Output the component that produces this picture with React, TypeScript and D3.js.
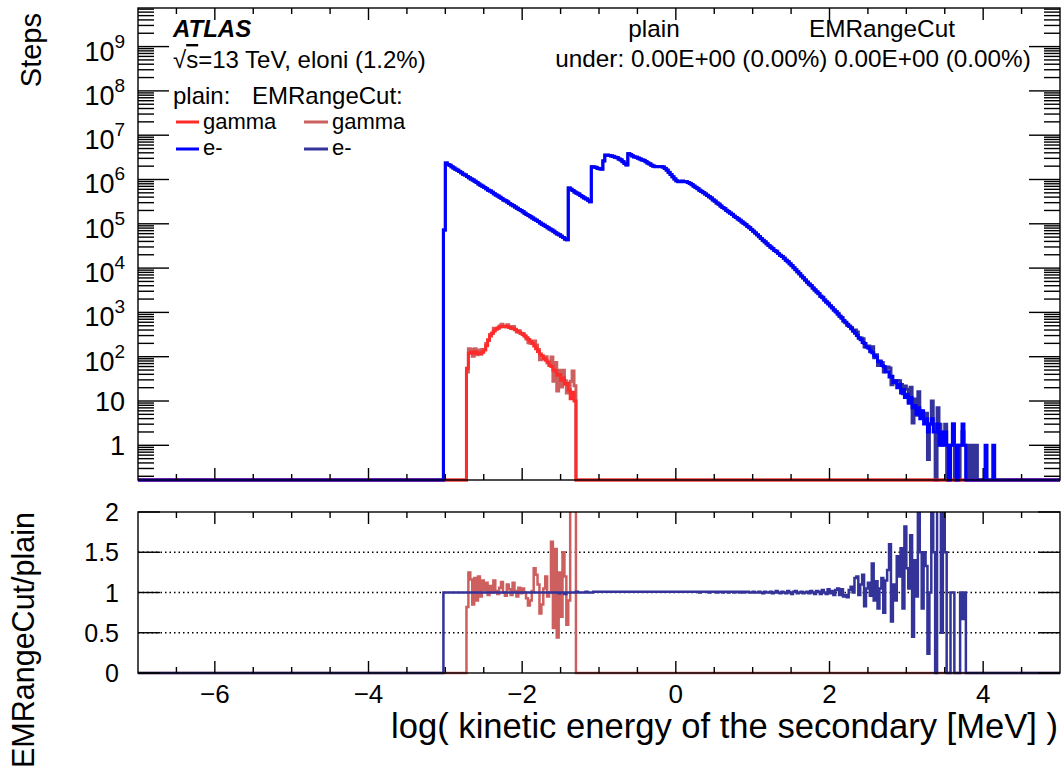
import React from 'react';
import * as d3 from 'd3';

// ---------------- data ----------------
const BIN_W = 0.025;
const X_MIN = -7;
const X_MAX = 5;

// e- (plain) : log10(steps) per 0.025 bin, starting at -3.2 (null = empty bin)
const E_START = -3.2;
const ePlainLog10: (number | null)[] = [
  null, null, null, null, null, null, null, 4.86,
  6.37, 6.34, 6.32, 6.29, 6.26, 6.23, 6.21, 6.18,
  6.15, 6.12, 6.10, 6.07, 6.04, 6.01, 5.99, 5.96,
  5.93, 5.90, 5.87, 5.85, 5.82, 5.79, 5.76, 5.74,
  5.71, 5.68, 5.65, 5.63, 5.60, 5.57, 5.54, 5.52,
  5.49, 5.46, 5.43, 5.41, 5.38, 5.35, 5.32, 5.30,
  5.27, 5.24, 5.21, 5.19, 5.16, 5.13, 5.10, 5.08,
  5.05, 5.02, 4.99, 4.97, 4.94, 4.91, 4.88, 4.86,
  4.83, 4.80, 4.77, 4.75, 4.72, 4.69, 4.66, 4.64,
  5.81, 5.78, 5.75, 5.72, 5.69, 5.67, 5.64, 5.61,
  5.58, 5.56, 5.53, 5.50, 6.29, 6.28, 6.27, 6.25,
  6.24, 6.23, 6.42, 6.55, 6.55, 6.54, 6.53, 6.52,
  6.50, 6.49, 6.46, 6.44, 6.40, 6.36, 6.33, 6.58,
  6.56, 6.53, 6.51, 6.50, 6.48, 6.46, 6.44, 6.43,
  6.40, 6.37, 6.35, 6.32, 6.30, 6.29, 6.29, 6.29,
  6.29, 6.28, 6.25, 6.21, 6.16, 6.11, 6.06, 6.01,
  5.97, 5.95, 5.95, 5.96, 5.95, 5.95, 5.93, 5.91,
  5.88, 5.85, 5.82, 5.79, 5.76, 5.73, 5.70, 5.67,
  5.64, 5.61, 5.58, 5.54, 5.51, 5.47, 5.44, 5.40,
  5.37, 5.34, 5.30, 5.27, 5.24, 5.21, 5.17, 5.14,
  5.11, 5.08, 5.04, 5.01, 4.98, 4.94, 4.91, 4.87,
  4.83, 4.79, 4.75, 4.71, 4.67, 4.63, 4.59, 4.55,
  4.51, 4.47, 4.44, 4.40, 4.37, 4.33, 4.29, 4.26,
  4.22, 4.18, 4.14, 4.10, 4.06, 4.01, 3.96, 3.92,
  3.87, 3.82, 3.78, 3.73, 3.68, 3.64, 3.60, 3.55,
  3.51, 3.46, 3.42, 3.37, 3.33, 3.28, 3.24, 3.19,
  3.15, 3.10, 3.06, 3.01, 2.96, 2.92, 2.87, 2.82,
  2.78, 2.73, 2.68, 2.63, 2.58, 2.53, 2.48, 2.43,
  2.38, 2.32, 2.30, 2.22, 2.19, 2.13, 2.09, 2.02,
  1.99, 1.90, 1.88, 1.80, 1.78, 1.66, 1.66, 1.54,
  1.56, 1.42, 1.45, 1.30, 1.38, 1.18, 1.26, 1.08,
  1.15, 0.95, 1.08, 0.85, 0.90, 0.70, 0.85, 0.60,
  0.78, 0.48, 0.60, 0.30, 0.48, 0.60, 0.30, 0.30,
  0.48, 0.00, 0.30, 0.00, 0.30, 0.00, null, 0.00,
  0.48, 0.00, null, 0.00, 0.00, 0.48, 0.00, null,
  null, null, null, null, null, null, null, null,
  null, 0.00, null, null, null, 0.00, null, null,
];

// e- ratio EMRangeCut / plain, same binning
const eRatio: number[] = [
  0, 0, 0, 0, 0, 0, 0, 1.00,
  1, 1, 1, 1, 1, 1, 1, 1,
  1, 1, 1, 1, 1, 1, 1, 1,
  1, 1, 1, 1, 1, 1, 1, 1,
  1, 1, 1, 1, 1, 1, 1, 1,
  1, 1, 1, 1, 1, 1, 1, 1,
  1, 1, 1, 1, 1, 1, 1, 1,
  1, 1, 1, 1, 1, 1, 1, 1,
  1, 1, 1, 0.99, 1, 1, 0.98, 1,
  1, 1, 1, 1, 1.01, 1, 1, 1,
  1, 1.01, 1, 1, 1, 1.01, 1.01, 1.01,
  1.01, 1.01, 1.01, 1.01, 1.01, 1.01, 1.01, 1.01,
  1.01, 1.01, 1.01, 1.01, 1.01, 1.01, 1.01, 1.01,
  1.01, 1.01, 1.01, 1.01, 1.01, 1.01, 1.01, 1.01,
  1.01, 1.01, 1.01, 1.01, 1.01, 1.01, 1.01, 1.01,
  1.01, 1.01, 1.01, 1.01, 1.01, 1.01, 1.01, 1.01,
  1.01, 1.01, 1.01, 1.01, 1.01, 1.01, 1.01, 1.01,
  1.01, 1.01, 1.01, 1.01, 1.00, 1.01, 1.01, 1.01,
  1.01, 1.00, 1.01, 1.01, 1.01, 1.00, 1.01, 1.01,
  1.00, 1.01, 1.01, 1.00, 1.01, 1.01, 1.00, 1.01,
  1.01, 1.00, 1.01, 1.00, 1.01, 1.01, 1.00, 1.00,
  1.01, 1.00, 1.00, 1.01, 1.00, 0.99, 1.01, 1.00,
  1.00, 1.01, 0.99, 1.00, 1.02, 1.00, 0.99, 1.01,
  1.00, 0.99, 1.02, 1.00, 0.98, 1.01, 1.02, 0.99,
  1.00, 1.01, 0.99, 1.00, 1.01, 0.99, 1.02, 1.00,
  0.98, 1.02, 1.01, 0.98, 1.03, 1.00, 0.98, 1.04,
  0.99, 1.02, 0.97, 1.03, 1.05, 0.97, 1.04, 0.95,
  0.97, 0.94, 1.03, 1.07, 1.00, 1.18, 1.20, 0.97,
  1.10, 1.22, 0.83, 1.05, 1.12, 0.96, 1.36, 0.90,
  1.14, 0.80, 1.05, 1.18, 0.75, 1.15, 1.28, 1.60,
  0.64, 1.10, 0.90, 1.45, 1.20, 1.55, 0.80, 1.82,
  1.30, 1.05, 1.71, 0.45, 1.40, 0.95, 2.30, 1.50,
  0.80, 1.50, 1.33, 0.24, 1.00, 2.50, 1.50, 0.00,
  2.33, 3.00, 0.50, 2.00, 1.50, 0.00, 0.00, 1.00,
  1.00, 0.00, 0.00, 0.00, 1.00, 0.67, 1.00, 0.00,
];

// EMRangeCut e- bins that are filled where plain is empty
const eCutOnlyEdges = [3.55, 3.65, 3.8, 3.85, 3.9];
const eCutOnlyCounts = [1, 1, 1, 1, 1];

// gamma (plain) : log10(steps) per 0.025 bin, starting at -2.8
const G_START = -2.8;
const gPlainLog10: (number | null)[] = [
  null, null, null, 1.74, 2.08, 2.10, 2.08, 2.11,
  2.09, 2.07, 2.08, 2.10, 2.15, 2.25, 2.38, 2.47,
  2.53, 2.58, 2.62, 2.65, 2.67, 2.68, 2.69, 2.69,
  2.68, 2.66, 2.65, 2.63, 2.61, 2.58, 2.56, 2.53,
  2.50, 2.47, 2.43, 2.39, 2.35, 2.30, 2.24, 2.18,
  2.12, 2.06, 2.02, 1.96, 1.92, 1.88, 1.80, 1.78,
  1.70, 1.68, 1.58, 1.60, 1.47, 1.52, 1.38, 1.40,
  1.25, 1.05, 1.20, 1.00,
];

const gRatio: number[] = [
  0, 0, 0, 0.82, 1.25, 1.16, 0.85, 1.18,
  0.90, 1.20, 0.95, 1.15, 1.03, 1.12, 0.97, 1.08,
  1.00, 1.15, 1.02, 0.98, 1.06, 1.13, 1.00, 0.96,
  1.10, 1.04, 0.97, 1.12, 1.02, 0.95, 1.06, 0.99,
  1.05, 1.00, 0.93, 0.84, 0.90, 1.02, 1.30, 1.22,
  1.10, 0.74, 0.85, 1.05, 1.20, 0.95, 1.00, 1.63,
  0.56, 1.54, 0.44, 1.25, 0.70, 1.50, 1.20, 0.60,
  0.90, 2.50, 3.00, 2.20,
];

const xTickLabels = [-6, -4, -2, 0, 2, 4];
const yTopDecades = [0, 1, 2, 3, 4, 5, 6, 7, 8, 9];
const yBotTicks = [0, 0.5, 1, 1.5, 2];
const yBotGrid = [0.5, 1, 1.5];

const COL_G_PLAIN = '#ff2b2b';
const COL_G_CUT = '#cd5f5f';
const COL_E_PLAIN = '#0000ff';
const COL_E_CUT = '#333399';

// ---------------- helpers ----------------
const FONT = "'Liberation Sans', Arial, Helvetica, sans-serif";
const L = 138, R = 1060;
const TOP_T = 8, TOP_B = 480;
const BOT_T = 512, BOT_B = 673;
const NB = Math.round((X_MAX - X_MIN) / BIN_W);

function lookup<T>(arr: T[], start: number, edge: number): T | undefined {
  const j = Math.round((edge - start) / BIN_W);
  return j >= 0 && j < arr.length ? arr[j] : undefined;
}

function plainCount(arr: (number | null)[], start: number, edge: number): number {
  const v = lookup(arr, start, edge);
  return v === undefined || v === null ? 0 : Math.pow(10, v);
}

function ratioVal(arr: number[], start: number, edge: number): number {
  const v = lookup(arr, start, edge);
  return v === undefined ? 0 : v;
}

export default function App() {
  const x = d3.scaleLinear().domain([X_MIN, X_MAX]).range([L, R]);
  const yTop = d3.scaleLog().domain([Math.pow(10, -0.783), Math.pow(10, 9.871)]).range([TOP_B, TOP_T]);
  const yBot = d3.scaleLinear().domain([0, 2]).range([BOT_B, BOT_T]);

  const edges = d3.range(NB).map((i) => X_MIN + i * BIN_W);
  const stepLine = d3.line<[number, number]>().curve(d3.curveStepAfter);

  const histPath = (vals: number[], ymap: (v: number) => number) => {
    const pts: [number, number][] = edges.map((e, i) => [x(e), ymap(vals[i])]);
    pts.push([x(X_MAX), ymap(vals[vals.length - 1])]);
    return stepLine(pts) || '';
  };

  const topMap = (c: number) => (c > 0 ? yTop(c) : TOP_B);
  const botMap = (r: number) => yBot(r);

  const ePlain = edges.map((e) => plainCount(ePlainLog10, E_START, e));
  const eCut = edges.map((e, i) => {
    const c = ePlain[i] * ratioVal(eRatio, E_START, e);
    if (c > 0) return c;
    const k = eCutOnlyEdges.findIndex((q) => Math.abs(q - e) < BIN_W / 2);
    return k >= 0 ? eCutOnlyCounts[k] : 0;
  });
  const gPlain = edges.map((e) => plainCount(gPlainLog10, G_START, e));
  const gCut = edges.map((e, i) => gPlain[i] * ratioVal(gRatio, G_START, e));
  const eR = edges.map((e) => ratioVal(eRatio, E_START, e));
  const gR = edges.map((e) => ratioVal(gRatio, G_START, e));

  // ticks
  const xTicks = d3.range(X_MIN + 0.5, X_MAX, 0.5);
  const isMajorX = (v: number) => Math.abs(v / 2 - Math.round(v / 2)) < 1e-6;
  const yMinor: number[] = [];
  for (let k = -1; k <= 9; k++) {
    for (let m = 2; m <= 9; m++) {
      const v = m * Math.pow(10, k);
      const [a, b] = yTop.domain();
      if (v > a && v < b) yMinor.push(v);
    }
  }

  return (
    <svg
      width={1063}
      height={774}
      style={{ position: 'absolute', left: 0, top: 0, background: '#fff' }}
      fontFamily={FONT}
    >
      <defs>
        <clipPath id="clipTop">
          <rect x={L} y={TOP_T} width={R - L} height={TOP_B - TOP_T + 2} />
        </clipPath>
        <clipPath id="clipBot">
          <rect x={L} y={BOT_T} width={R - L} height={BOT_B - BOT_T + 2} />
        </clipPath>
      </defs>
      <rect x={0} y={0} width={1063} height={774} fill="#fff" />

      {/* ---------- top panel histograms ---------- */}
      <g clipPath="url(#clipTop)" fill="none" strokeWidth={3}>
        <path d={histPath(gCut, topMap)} stroke={COL_G_CUT} />
        <path d={histPath(eCut, topMap)} stroke={COL_E_CUT} />
        <path d={histPath(gPlain, topMap)} stroke={COL_G_PLAIN} />
        <path d={histPath(ePlain, topMap)} stroke={COL_E_PLAIN} />
      </g>

      {/* ---------- top frame & ticks ---------- */}
      <g stroke="#000" strokeWidth={1.4} fill="none">
        <rect x={L} y={TOP_T} width={R - L} height={TOP_B - TOP_T} />
        {xTicks.map((v) => {
          const len = isMajorX(v) ? 12 : 6;
          return (
            <g key={'tx' + v}>
              <line x1={x(v)} x2={x(v)} y1={TOP_B} y2={TOP_B - len} />
              <line x1={x(v)} x2={x(v)} y1={TOP_T} y2={TOP_T + len} />
            </g>
          );
        })}
        {yTopDecades.map((k) => {
          const yy = yTop(Math.pow(10, k));
          return (
            <g key={'ty' + k}>
              <line x1={L} x2={L + 31} y1={yy} y2={yy} />
              <line x1={R} x2={R - 31} y1={yy} y2={yy} />
            </g>
          );
        })}
        {yMinor.map((v, i) => {
          const yy = yTop(v);
          return (
            <g key={'tm' + i}>
              <line x1={L} x2={L + 16} y1={yy} y2={yy} />
              <line x1={R} x2={R - 16} y1={yy} y2={yy} />
            </g>
          );
        })}
      </g>

      {/* top y labels */}
      <g fontSize={27} fill="#000" textAnchor="end">
        {yTopDecades.map((k) => {
          const yy = yTop(Math.pow(10, k));
          if (k === 0) return <text key={'yl' + k} x={125} y={yy + 10}>1</text>;
          if (k === 1) return <text key={'yl' + k} x={125} y={yy + 10}>10</text>;
          return (
            <text key={'yl' + k} x={125} y={yy + 14}>
              10<tspan fontSize={19} dy={-13}>{k}</tspan>
            </text>
          );
        })}
      </g>

      <text transform="translate(41,13) rotate(-90)" textAnchor="end" fontSize={29}>Steps</text>

      {/* legend */}
      <text x={173} y={37} fontSize={24} fontWeight="bold" fontStyle="italic">ATLAS</text>
      <text x={173} y={68} fontSize={24}>
        √<tspan style={{ textDecoration: 'overline' }}>s</tspan>=13 TeV, eloni (1.2%)
      </text>
      <text x={173} y={104} fontSize={24}>plain:</text>
      <text x={252} y={104} fontSize={24}>EMRangeCut:</text>
      <line x1={176} x2={199} y1={122} y2={122} stroke={COL_G_PLAIN} strokeWidth={3} />
      <text x={203} y={129} fontSize={22}>gamma</text>
      <line x1={304} x2={328} y1={122} y2={122} stroke={COL_G_CUT} strokeWidth={3} />
      <text x={332} y={129} fontSize={22}>gamma</text>
      <line x1={176} x2={199} y1={149} y2={149} stroke={COL_E_PLAIN} strokeWidth={3} />
      <text x={203} y={155} fontSize={22}>e-</text>
      <line x1={304} x2={328} y1={149} y2={149} stroke={COL_E_CUT} strokeWidth={3} />
      <text x={332} y={155} fontSize={22}>e-</text>

      <text x={654} y={37} fontSize={24.3} textAnchor="middle">plain</text>
      <text x={882} y={37} fontSize={24.3} textAnchor="middle">EMRangeCut</text>
      <text x={793} y={67} fontSize={24.3} textAnchor="middle">under: 0.00E+00 (0.00%) 0.00E+00 (0.00%)</text>

      {/* ---------- bottom panel ---------- */}
      <g stroke="#000" strokeWidth={1.3} strokeDasharray="1.5 3">
        {yBotGrid.map((v) => (
          <line key={'g' + v} x1={L} x2={R} y1={yBot(v)} y2={yBot(v)} />
        ))}
      </g>
      <g clipPath="url(#clipBot)" fill="none" strokeWidth={2.5}>
        <path d={histPath(gR, botMap)} stroke={COL_G_CUT} />
        <path d={histPath(eR, botMap)} stroke={COL_E_CUT} />
      </g>
      <g stroke="#000" strokeWidth={1.4} fill="none">
        <rect x={L} y={BOT_T} width={R - L} height={BOT_B - BOT_T} />
        {xTicks.map((v) => {
          const len = isMajorX(v) ? 12 : 6;
          return (
            <g key={'bx' + v}>
              <line x1={x(v)} x2={x(v)} y1={BOT_B} y2={BOT_B - len} />
              <line x1={x(v)} x2={x(v)} y1={BOT_T} y2={BOT_T + len} />
            </g>
          );
        })}
        {yBotTicks.map((v) => (
          <g key={'by' + v}>
            <line x1={L} x2={L + 22} y1={yBot(v)} y2={yBot(v)} />
            <line x1={R} x2={R - 22} y1={yBot(v)} y2={yBot(v)} />
          </g>
        ))}
      </g>
      <g fontSize={25} textAnchor="end">
        {yBotTicks.map((v) => (
          <text key={'byl' + v} x={119} y={yBot(v) + 9}>{String(v)}</text>
        ))}
      </g>
      <g fontSize={26} textAnchor="middle">
        {xTickLabels.map((v) => (
          <text key={'bxl' + v} x={x(v)} y={703}>{v < 0 ? '\u2212' + Math.abs(v) : String(v)}</text>
        ))}
      </g>
      <text x={1058} y={738} fontSize={34.6} textAnchor="end">log( kinetic energy of the secondary [MeV] )</text>
      <text transform="translate(34,512) rotate(-90)" textAnchor="end" fontSize={30.5}>EMRangeCut/plain</text>
    </svg>
  );
}
